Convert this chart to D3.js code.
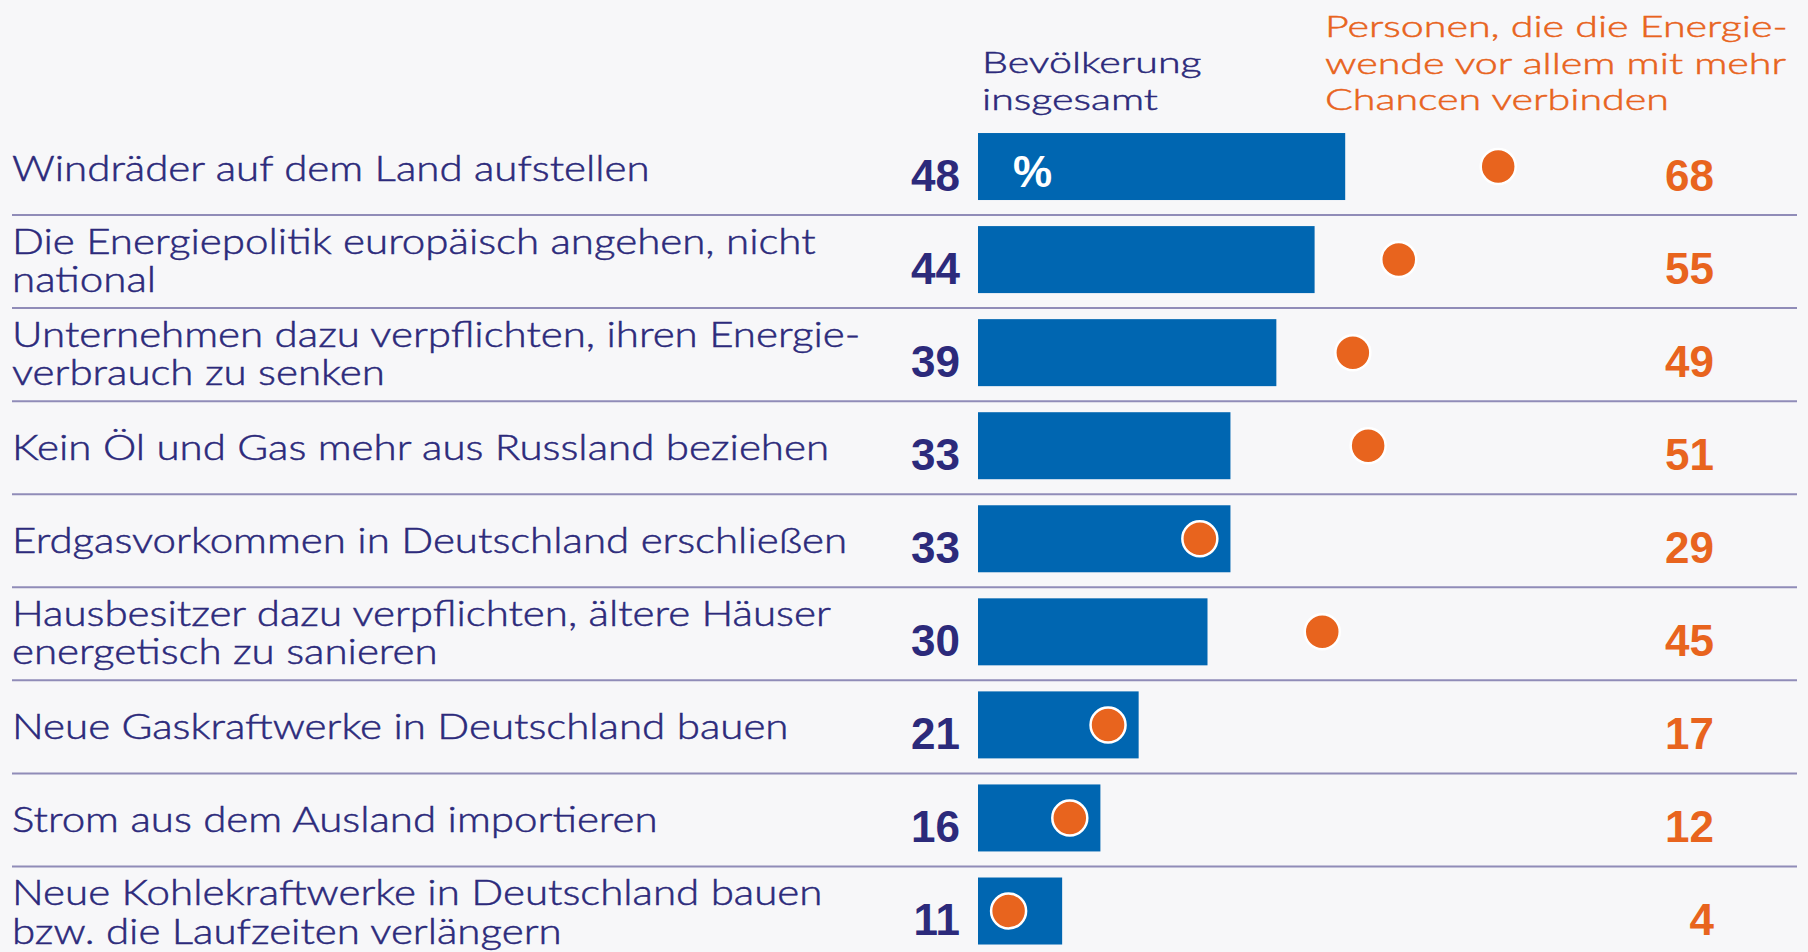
<!DOCTYPE html>
<html>
<head>
<meta charset="utf-8">
<script src="https://cdn.jsdelivr.net/npm/d3@7"></script>
<style>
  body { margin: 0; background: #f7f7f9; }
  svg { display: block; background: #f7f7f9; }
  .label, .head-total, .head-chancen { font-family: Lato, sans-serif; font-weight: 300; stroke-width: 0.5px; }
  .label { font-size: 35px; }
  .head-total, .head-chancen { font-size: 30px; }
  .label, .head-total { fill: #2c2a7b; stroke: #2c2a7b; }
  .head-chancen { fill: #e8641e; stroke: #e8641e; }
  .value { font-family: "Liberation Sans", Arial, sans-serif; font-weight: bold; font-size: 44px; }
</style>
</head>
<body>
<svg id="chart" width="1808" height="952"></svg>
<script>
// Items, one entry per row (line breaks as in the original)
const categories = [
  ["Windräder auf dem Land aufstellen"],
  ["Die Energiepolitik europäisch angehen, nicht", "national"],
  ["Unternehmen dazu verpflichten, ihren Energie-", "verbrauch zu senken"],
  ["Kein Öl und Gas mehr aus Russland beziehen"],
  ["Erdgasvorkommen in Deutschland erschließen"],
  ["Hausbesitzer dazu verpflichten, ältere Häuser", "energetisch zu sanieren"],
  ["Neue Gaskraftwerke in Deutschland bauen"],
  ["Strom aus dem Ausland importieren"],
  ["Neue Kohlekraftwerke in Deutschland bauen", "bzw. die Laufzeiten verlängern"]
];

// Bevölkerung insgesamt (bars)
const totalValues = [48, 44, 39, 33, 33, 30, 21, 16, 11];
// Personen, die die Energiewende vor allem mit mehr Chancen verbinden (dots)
const chancenValues = [68, 55, 49, 51, 29, 45, 17, 12, 4];

const headerTotal = ["Bevölkerung", "insgesamt"];
const headerChancen = ["Personen, die die Energie-", "wende vor allem mit mehr", "Chancen verbinden"];
const unitText = "%";

const navy = "#2c2a7b";
const blue = "#0066b1";
const orange = "#e8641e";
const rule = "#908cb8";

const svg = d3.select("#chart");
const width = +svg.attr("width");

const x = d3.scaleLinear().domain([0, 100]).range([978, 978 + 765]);
const y = d3
  .scaleBand()
  .domain(d3.range(categories.length))
  .range([120, 120 + 93.06 * categories.length]);
const mid = (i) => y(i) + y.bandwidth() / 2;
const barH = 67;

// the original face is narrower than Lato: squeeze it to the measured widths
const widthOf = (cls, t) => {
  const p = svg.append("text").attr("class", cls).text(t);
  const w = p.node().getComputedTextLength();
  p.remove();
  return w;
};
const kLabel = 638 / widthOf("label", categories[0][0]);
const kHead = 463 / widthOf("head-chancen", headerChancen[0]);

const squeezed = (sel, px, py, k) =>
  sel.attr("transform", `translate(${px},${py}) scale(${k},1)`);

// separators
svg
  .append("g")
  .selectAll("line")
  .data(d3.range(categories.length - 1))
  .join("line")
  .attr("x1", 12)
  .attr("x2", width - 11)
  .attr("y1", (i) => mid(i) + 48.5)
  .attr("y2", (i) => mid(i) + 48.5)
  .attr("stroke", rule)
  .attr("stroke-width", 2);

// headers
headerTotal.forEach((t, j) => {
  squeezed(svg.append("text").attr("class", "head-total").text(t), 982, 73 + j * 37, kHead);
});
headerChancen.forEach((t, j) => {
  squeezed(svg.append("text").attr("class", "head-chancen").text(t), 1325, 37 + j * 36.5, kHead);
});

// row labels
categories.forEach((lines, i) => {
  const base = lines.length === 1 ? [mid(i) + 14.5] : [mid(i) - 6, mid(i) + 32.5];
  lines.forEach((t, j) => {
    squeezed(svg.append("text").attr("class", "label").text(t), 12, base[j], kLabel);
  });
});

// bars
svg
  .append("g")
  .selectAll("rect")
  .data(totalValues)
  .join("rect")
  .attr("x", x(0))
  .attr("y", (d, i) => mid(i) - barH / 2)
  .attr("width", (d) => x(d) - x(0))
  .attr("height", barH)
  .attr("fill", blue);

svg
  .append("text")
  .attr("class", "value")
  .attr("x", x(0) + 35)
  .attr("y", mid(0) + 20.5)
  .attr("fill", "#fff")
  .attr("font-size", 38)
  .text(unitText);

// dots
svg
  .append("g")
  .selectAll("circle")
  .data(chancenValues)
  .join("circle")
  .attr("cx", (d) => x(d))
  .attr("cy", (d, i) => mid(i))
  .attr("r", 17.5)
  .attr("fill", orange)
  .attr("stroke", "#fff")
  .attr("stroke-width", 2.5);

// value labels
svg
  .append("g")
  .selectAll("text")
  .data(totalValues)
  .join("text")
  .attr("class", "value")
  .attr("text-anchor", "end")
  .attr("x", 960)
  .attr("y", (d, i) => mid(i) + 24)
  .attr("fill", navy)
  .text((d) => d);

svg
  .append("g")
  .selectAll("text")
  .data(chancenValues)
  .join("text")
  .attr("class", "value")
  .attr("text-anchor", "end")
  .attr("x", 1714)
  .attr("y", (d, i) => mid(i) + 24)
  .attr("fill", orange)
  .text((d) => d);
</script>
</body>
</html>
